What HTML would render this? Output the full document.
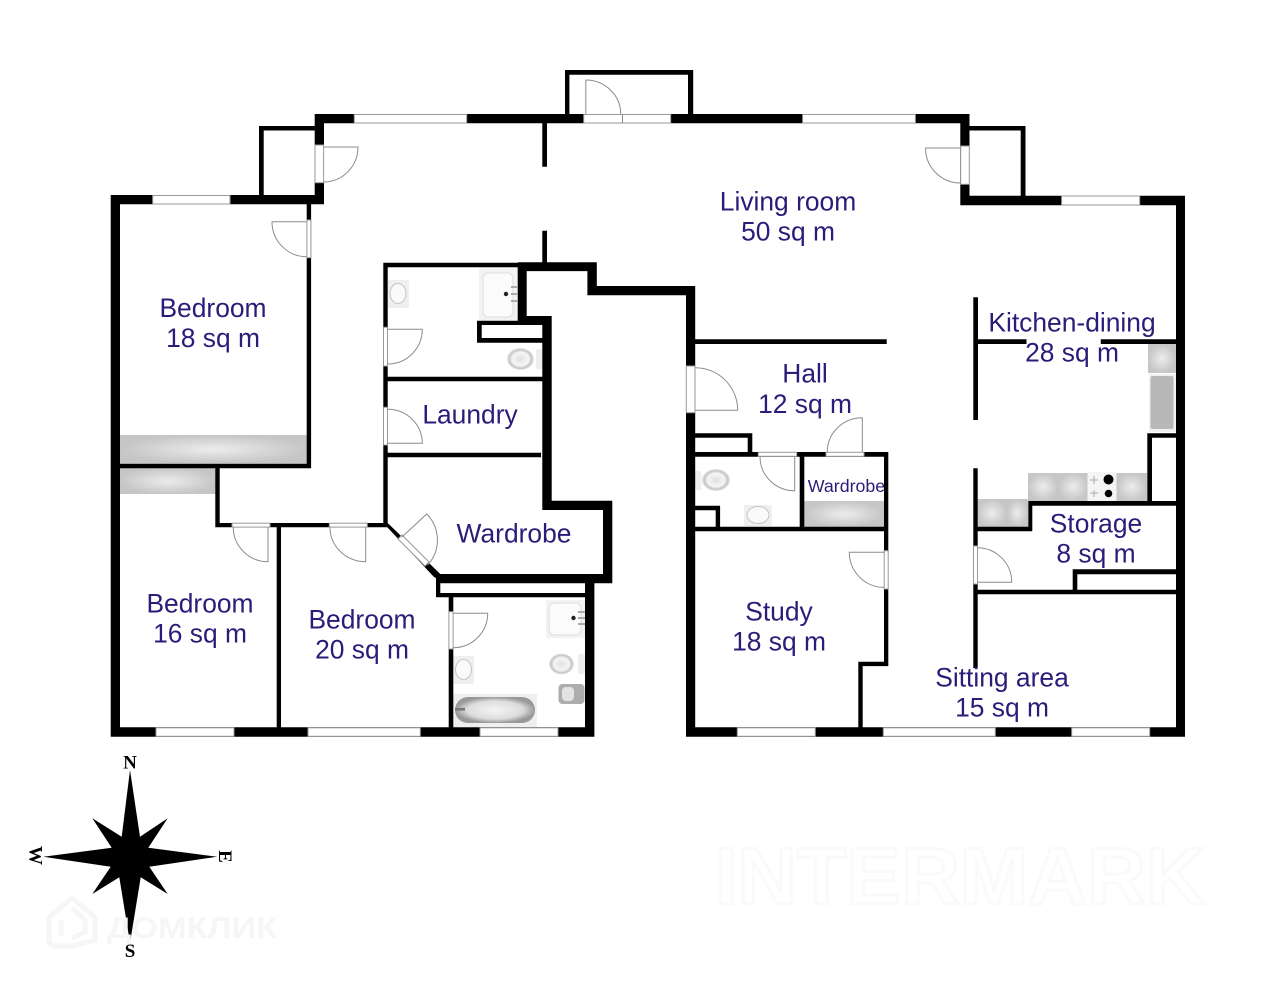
<!DOCTYPE html>
<html><head><meta charset="utf-8"><title>Floor plan</title>
<style>html,body{margin:0;padding:0;background:#fff}svg{display:block;filter:blur(.35px)}
.t{font-family:"Liberation Sans",sans-serif;font-size:26.4px;fill:#2a1c78;text-anchor:middle}
.c{font-family:"Liberation Serif",serif;font-weight:bold;font-size:19px;fill:#000;text-anchor:middle}
</style></head><body>
<svg xmlns="http://www.w3.org/2000/svg" width="1280" height="982" viewBox="0 0 1280 982">
<defs>
<radialGradient id="g"><stop offset="0" stop-color="#ececec"/><stop offset="1" stop-color="#c6c6c6"/></radialGradient>
<radialGradient id="l"><stop offset="0" stop-color="#e0e0e0"/><stop offset=".6" stop-color="#f6f6f6"/><stop offset=".85" stop-color="#c4c4c4"/><stop offset="1" stop-color="#eee"/></radialGradient>
<radialGradient id="b"><stop offset="0" stop-color="#f4f4f4"/><stop offset=".7" stop-color="#dcdcdc"/><stop offset="1" stop-color="#999"/></radialGradient>
</defs>
<rect width="1280" height="982" fill="#fff"/>

<!-- fixtures -->
<rect x="120" y="435" width="187" height="28.500" fill="url(#g)"/>
<rect x="120" y="468" width="95.500" height="26" fill="url(#g)"/>
<rect x="804" y="501" width="80" height="26" fill="url(#g)"/>
<rect x="1148" y="344" width="28" height="29" fill="url(#g)"/>
<rect x="1149" y="374" width="27" height="58" fill="#f1f1f1"/>
<rect x="1150.500" y="376" width="23" height="53" rx="2" fill="#b8b8b8"/>
<rect x="1028" y="473" width="30" height="28" fill="url(#g)"/>
<rect x="1058" y="473" width="30" height="28" fill="url(#g)"/>
<rect x="1087.500" y="472" width="29" height="29" fill="#f4f4f4"/>
<circle cx="1108.500" cy="479.500" r="5" fill="#000"/>
<circle cx="1108.500" cy="493.500" r="3.800" fill="#000"/>
<path d="M1094 476v8M1090 480h8M1094 490v7M1090 493h8" stroke="#aaa" stroke-width="1" fill="none"/>
<rect x="1116.500" y="473" width="30.500" height="28" fill="url(#g)"/>
<rect x="977" y="499" width="30" height="28" fill="url(#g)"/>
<rect x="1007" y="499" width="21" height="28" fill="url(#g)"/>
<rect x="388" y="280" width="21" height="28" fill="#efefef"/>
<ellipse cx="398" cy="293.500" rx="8" ry="10" fill="#fafafa" stroke="#c4c4c4"/>
<rect x="479" y="267" width="39" height="53" fill="#f3f3f3"/>
<rect x="483" y="273" width="30" height="44" rx="5" fill="#fbfbfb" stroke="#ddd"/>
<circle cx="506" cy="294" r="2.200" fill="#222"/>
<path d="M511 287h6M511 294h6M511 301h6" stroke="#aaa" stroke-width="2"/>
<ellipse cx="520.500" cy="359" rx="13.500" ry="11" fill="url(#l)"/>
<rect x="536" y="349" width="6.500" height="20" rx="2" fill="#eee"/>
<ellipse cx="716" cy="480" rx="14" ry="11" fill="url(#l)"/>
<rect x="695" y="471" width="6.500" height="19" rx="2" fill="#eee"/>
<rect x="744" y="505" width="28" height="21" fill="#efefef"/>
<ellipse cx="758" cy="515" rx="11" ry="8.500" fill="#fafafa" stroke="#c4c4c4"/>
<rect x="546" y="600" width="39" height="38" fill="#f3f3f3"/>
<rect x="549" y="603" width="32" height="32" rx="5" fill="#fbfbfb" stroke="#ddd"/>
<circle cx="573.500" cy="618" r="2.200" fill="#222"/>
<path d="M578 612h7M578 618h7M578 624h7" stroke="#aaa" stroke-width="2"/>
<rect x="453" y="656" width="21" height="28" fill="#efefef"/>
<ellipse cx="463.500" cy="669.500" rx="8" ry="10" fill="#fafafa" stroke="#c4c4c4"/>
<ellipse cx="561.500" cy="664" rx="12.500" ry="10.500" fill="url(#l)"/>
<rect x="578" y="654" width="7" height="20" rx="2" fill="#eee"/>
<rect x="558.500" y="684" width="26" height="20" rx="4" fill="#adadad"/>
<rect x="562" y="687" width="12" height="14" rx="4" fill="#e2e2e2"/>
<rect x="453" y="694" width="84" height="33" fill="#efefef"/>
<rect x="455" y="697" width="80" height="26" rx="13" fill="url(#b)"/>
<rect x="455" y="708" width="10" height="2.500" fill="#777"/>

<!-- walls -->
<path fill="#000" d="M110.700 195h9.300v541.700h-9.300zM110.700 195h213.300v9.300h-213.300zM314.700 114h9.300v90.300h-9.300zM314.700 114h654.800v9.300h-654.800zM259 126h4.700v70h-4.700zM259 126h56v4.500h-56zM565 70h4.400v45h-4.400zM565 70h128v4.700h-128zM688 70h5.200v45h-5.200zM960.300 114h9.200v91.300h-9.200zM969 126h56v4.500h-56zM1020.700 126h4.800v70h-4.800zM960.300 195.800h224.700v9.500h-224.700zM1176 195.800h9v541h-9zM110.700 727.300h483.700v9.400h-483.700zM686 727.300h499v9.400h-499zM542.300 123h4.700v43.700h-4.700zM542.300 230.700h4.700v33h-4.700zM306.700 204h4.400v264.300h-4.400zM120 463.700h191v4.600h-191zM215.300 464h4.400v63h-4.400zM215.300 523h171v4.300h-171zM276.700 527h4.300v200.500h-4.300zM383.300 262.700h4.400v264.600h-4.400zM383.300 262.700h135v4.600h-135zM517.700 262.300h79v8.800h-79zM517.700 262.300h9v62.700h-9zM587.400 262.300h9.400v33h-9.400zM587.400 286h107.800v9.300h-107.800zM686 286h9.200v450h-9.200zM477 320.700h4.700v22h-4.700zM477 320.700h74v4.300h-74zM517.700 316h34v9h-34zM477 338h66v4.700h-66zM542.300 316h9.400v194h-9.400zM542.300 500.700h70v9.300h-70zM603 500.700h9.300v82.600h-9.300zM438.300 574h174v9.300h-174zM585 574h9.400v162h-9.400zM387 376.700h156v4.600h-156zM387 452.700h154v4.600h-154zM383.300 523h4.400l52.600 51v6l-6.300-3zM436 575h4.300v22.300h-4.300zM436 593h150v4.300h-150zM448.700 593h4.600v134.500h-4.600zM695 339.300h191.700v4.700h-191.700zM973.300 297.300h4.700v122.700h-4.700zM973.300 468.300h4.400v200h-4.400zM978 339.300h48.500v4.700h-48.500zM1100.800 339.300h76v4.700h-76zM695 433.300h57.300v4.400h-57.300zM747.700 433.300h4.600v23.400h-4.600zM695 452h193.300v4.700h-193.300zM884 452h4.300v214h-4.300zM858.300 661.700h30v4.400h-30zM858.300 661.700h4.400v66h-4.400zM799.700 452h4.600v79h-4.600zM695 526.700h193v4.600h-193zM695 505.700h25v4.600h-25zM715.700 505.700h4.400v21h-4.400zM977 526.700h55v4.600h-55zM1028.300 501h4v30h-4zM1028.300 501h148v4.700h-148zM1147.300 433.300h4.700v70h-4.700zM1147.300 433.300h29v4.400h-29zM1072.700 569.300h104v5h-104zM1072.700 569.300h4.600v21h-4.600zM977 589.700h200v4.600h-200z"/>

<!-- windows and door gaps -->
<g fill="#fff" stroke="#999" stroke-width="1">
<rect x="152.700" y="195.500" width="77.300" height="8.500"/>
<rect x="354.300" y="114.500" width="112.400" height="8.500"/>
<rect x="583.700" y="114.500" width="87" height="8.500"/>
<rect x="802.600" y="114.500" width="112.800" height="8.500"/>
<rect x="1061.600" y="196" width="78.100" height="9"/>
<rect x="156" y="727.800" width="78" height="8.500"/>
<rect x="308" y="727.800" width="112.300" height="8.500"/>
<rect x="480" y="727.800" width="78" height="8.500"/>
<rect x="737.300" y="727.800" width="78" height="8.500"/>
<rect x="883.300" y="727.800" width="112" height="8.500"/>
<rect x="1071.700" y="727.800" width="78" height="8.500"/>
<rect x="315" y="145" width="8.600" height="37.700"/>
<rect x="960.700" y="146" width="8.600" height="38.300"/>
<rect x="306.900" y="220" width="4" height="37.700"/>
<rect x="383.500" y="327.300" width="4" height="38.700"/>
<rect x="383.500" y="407.300" width="4" height="37.700"/>
<rect x="232" y="523.200" width="38" height="3.900"/>
<rect x="329.300" y="523.200" width="38" height="3.900"/>
<rect x="448.900" y="611.700" width="4.200" height="37.300"/>
<rect x="686.300" y="366" width="8.700" height="46.700"/>
<rect x="758.300" y="452.300" width="38.400" height="4"/>
<rect x="826" y="452.300" width="38" height="4"/>
<rect x="884.200" y="550.700" width="4" height="38.300"/>
<rect x="973.500" y="546" width="4" height="38"/>
<polygon points="398,539 402,535 429,562 425,566"/>
</g>

<!-- door leaves -->
<g fill="none" stroke="#8c8c8c" stroke-width="1">
<path d="M585.800 114V80A35 34 0 0 1 620.700 114"/>
<path d="M622.500 114.500V123"/>
<path d="M324 147H358A34.500 35 0 0 1 324 182"/>
<path d="M960.500 148H925.500A35 35 0 0 0 960.500 183"/>
<path d="M306.500 221.700H272A34.500 35 0 0 0 306.500 256.700"/>
<path d="M387.700 329.300H422.300A34.600 34.700 0 0 1 387.700 364"/>
<path d="M387.700 409.300A34.600 34 0 0 1 422.300 443.300H387.700"/>
<path d="M268 527.300V561.700A34.700 34.400 0 0 1 233.300 527.300"/>
<path d="M365.700 527.300V561.700A35.700 34.400 0 0 1 330 527.300"/>
<path d="M401.700 537.300L426.700 514A37 37 0 0 1 427.700 565"/>
<path d="M453.300 613.300H487.700A34.400 34.400 0 0 1 453.300 647.700"/>
<path d="M695.300 367.700A42.400 42.600 0 0 1 737.700 410.300H695.300"/>
<path d="M794.700 456.700V490.700A34.700 34 0 0 1 760 456.700"/>
<path d="M862.300 452V417.700A35 34.300 0 0 0 827.300 452"/>
<path d="M884 552.300H849.300A34.700 35 0 0 0 884 587.300"/>
<path d="M977.300 547.700A34.400 34.600 0 0 1 1011.700 582.300H977.300"/>
</g>

<!-- labels -->
<text class="t" x="213" y="317">Bedroom</text>
<text class="t" x="213" y="347">18 sq m</text>
<text class="t" x="788" y="210.700">Living room</text>
<text class="t" x="788" y="240.700">50 sq m</text>
<text class="t" x="1072" y="331.400">Kitchen-dining</text>
<text class="t" x="1072" y="361.400">28 sq m</text>
<text class="t" x="805" y="382.700">Hall</text>
<text class="t" x="805" y="413">12 sq m</text>
<text class="t" x="470" y="423.400">Laundry</text>
<text class="t" x="514" y="542.400">Wardrobe</text>
<text class="t" x="200" y="612.400">Bedroom</text>
<text class="t" x="200" y="642.400">16 sq m</text>
<text class="t" x="362" y="628.400">Bedroom</text>
<text class="t" x="362" y="658.400">20 sq m</text>
<text class="t" x="846.500" y="492" style="font-size:17.8px">Wardrobe</text>
<text class="t" x="1096" y="532.400">Storage</text>
<text class="t" x="1096" y="562.400">8 sq m</text>
<text class="t" x="779" y="620.700">Study</text>
<text class="t" x="779" y="650.700">18 sq m</text>
<text class="t" x="1002" y="686.700">Sitting area</text>
<text class="t" x="1002" y="716.700">15 sq m</text>

<!-- watermarks -->
<text x="715" y="904" font-family="'Liberation Sans',sans-serif" font-weight="bold" font-size="81" textLength="490" lengthAdjust="spacingAndGlyphs" fill="#fff" stroke="#fafafa" stroke-width="3">INTERMARK</text>
<path d="M49 917L72 898L95 917V940L72 946L56 946Q49 946 49 939ZM61 920V936M72 908L85 920V932L72 938" fill="none" stroke="#f6f6f6" stroke-width="5"/>

<!-- compass -->
<polygon fill="#000" points="130,770 140,836.700 167.700,818.300 148.300,847.700 217,856.700 149.300,866.700 167.700,894 140.700,877.300 130,943 119.300,877.300 92.300,894 110.700,866.700 43.300,856.700 111.700,847.700 92.300,818.300 121.700,836.700"/>
<text x="107" y="938" font-family="'Liberation Sans',sans-serif" font-weight="bold" font-size="30" textLength="170" lengthAdjust="spacingAndGlyphs" fill="#f6f6f6">ДОМКЛИК</text>
<text class="c" x="130" y="768.500">N</text>
<text class="c" x="130" y="957">S</text>
<text class="c" transform="translate(29.500,855.500) rotate(90)">W</text>
<text class="c" transform="translate(219,856.500) rotate(90)">E</text>
</svg>
</body></html>
